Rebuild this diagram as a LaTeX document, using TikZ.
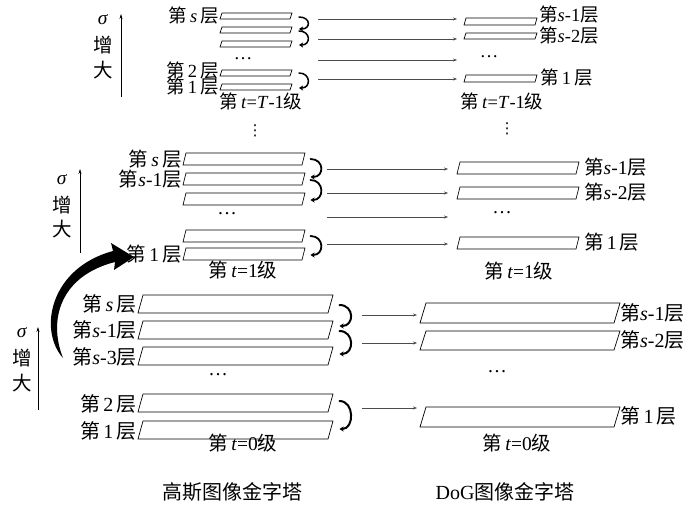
\documentclass[tikz,border=0pt]{standalone}
\usepackage{fontspec}
\setmainfont{Liberation Serif}
\newfontfamily\cjk{Noto Sans CJK SC}
\newfontfamily\dv{DejaVu Sans}
\usetikzlibrary{arrows.meta}
\newcommand\C[1]{{\cjk #1}}
\newcommand\para[6]{%
  \draw[pg] (#2+#6,#4) -- (#3,#4) -- (#3-#6,#5) -- (#2,#5) -- cycle;
  \coordinate (#1) at ({#3-#6/2},{(#4+#5)/2});}
\tikzset{
  pg/.style={draw=black,line width=0.7pt,line join=miter},
  lab/.style={inner sep=0pt,font=\fontsize{18.5}{18.5}\selectfont},
  labm/.style={inner sep=0pt,font=\fontsize{19.5}{19.5}\selectfont},
  labb/.style={inner sep=0pt,font=\fontsize{20}{20}\selectfont},
  harrow/.style={draw=black!70,line width=0.5pt,-{Stealth[length=4pt,width=3pt]}},
  curl/.style={draw=black,line width=1.8pt,-{Stealth[length=4pt,width=5pt,inset=1pt]},line cap=round},
  sarrow/.style={draw=black,line width=0.6pt,-{Stealth[length=5pt,width=3pt]}},
  vdot/.style={inner sep=0pt,font=\dv\fontsize{15}{15}\selectfont},
}
\begin{document}
\begin{tikzpicture}[x=1pt,y=-1pt]
\useasboundingbox (0,0) rectangle (700,508);
% ================= top level t=T-1 =================
\para{ga1}{220}{292}{13}{19}{2}
\para{ga2}{220}{292}{27}{33}{2}
\para{ga3}{220}{292}{41}{47}{2}
\para{ga4}{220}{292}{70}{76}{2}
\para{ga5}{220}{292}{84}{90}{2}
\para{da1}{464}{537}{18}{25}{2}
\para{da2}{464}{537}{33}{39}{2}
\para{da3}{464}{537}{75}{82}{2}
\node[lab,anchor=east] (la1) at (219,16) {\C{第}\,\textit{s}\,\C{层}};
\node[lab,anchor=east] (la2) at (219,71) {\C{第}\,2\,\C{层}};
\node[lab,anchor=east] (la3) at (219,87) {\C{第}\,1\,\C{层}};
\node[lab] (lva) at (261,101) {\C{第}\,\textit{t}=\textit{T}-1\C{级}};
\node[lab,anchor=west] (ra1) at (539,15) {\C{第}\textit{s}-1\C{层}};
\node[lab,anchor=west] (ra2) at (539,36) {\C{第}\textit{s}-2\C{层}};
\node[lab,anchor=west] (ra3) at (540,78) {\C{第}\,1\,\C{层}};
\node[lab] (rva) at (502,101) {\C{第}\,\textit{t}=\textit{T}-1\C{级}};
\node[lab] (dga) at (243,59) {…};
\node[lab] (dda) at (489,57) {…};
\draw[curl,line width=1.5pt] ([shift={(8,1)}]ga1) .. controls +(12,0) and +(12,0) .. ([shift={(8,-1)}]ga2);
\draw[curl,line width=1.5pt] ([shift={(8,1)}]ga2) .. controls +(12,0) and +(12,0) .. ([shift={(8,1)}]ga3);
\draw[curl,line width=1.5pt] ([shift={(8,0)}]ga4) .. controls +(12,0) and +(12,0) .. ([shift={(8,1)}]ga5);
\coordinate (ha1s) at (318,19); \coordinate (ha1e) at (457,19);
\coordinate (ha2s) at (318,39); \coordinate (ha2e) at (457,39);
\coordinate (ha3s) at (318,60); \coordinate (ha3e) at (457,60);
\coordinate (ha4s) at (318,79); \coordinate (ha4e) at (457,79);
\foreach \i in {1,...,4}{\draw[harrow] (ha\i s) -- (ha\i e);}
\coordinate (sa0) at (121,97); \coordinate (sa1) at (121,14);
\draw[sarrow] (sa0) -- (sa1);
\node[labm] (sga) at (103,20) {\textit{σ}};
\node[labm] (zga) at (103,45) {\C{增}};
\node[labm] (dxa) at (103,70) {\C{大}};
% vertical dots
\node[vdot] (vd1) at (255,131) {⋮};
\node[vdot] (vd2) at (507,129) {⋮};
% ================= middle level t=1 =================
\para{gb1}{183}{305}{153}{165}{3}
\para{gb2}{183}{305}{173}{185}{3}
\para{gb3}{183}{305}{193}{205}{3}
\para{gb4}{183}{305}{230}{242}{3}
\para{gb5}{183}{305}{248}{260}{3}
\para{db1}{457}{579}{162}{174}{3}
\para{db2}{457}{579}{187}{199}{3}
\para{db3}{457}{579}{237}{249}{3}
\node[labm,anchor=east] (lb1) at (182,159) {\C{第}\,\textit{s}\,\C{层}};
\node[labm,anchor=east] (lb2) at (182,179) {\C{第}\textit{s}-1\C{层}};
\node[labm,anchor=east] (lb3) at (182,254) {\C{第}\,1\,\C{层}};
\node[labm] (lvb) at (243,270) {\C{第}\,\textit{t}=1\C{级}};
\node[labm,anchor=west] (rb1) at (584,167) {\C{第}\textit{s}-1\C{层}};
\node[labm,anchor=west] (rb2) at (584,192) {\C{第}\textit{s}-2\C{层}};
\node[labm,anchor=west] (rb3) at (584,242) {\C{第}\,1\,\C{层}};
\node[labm] (rvb) at (519,271) {\C{第}\,\textit{t}=1\C{级}};
\node[labm] (dgb) at (227,214) {…};
\node[labm] (ddb) at (502,213) {…};
\draw[curl] ([shift={(7,0)}]gb1) .. controls +(14,0) and +(14,0) .. ([shift={(7,-2)}]gb2);
\draw[curl] ([shift={(7,1)}]gb2) .. controls +(14,0) and +(14,0) .. ([shift={(7,1)}]gb3);
\draw[curl] ([shift={(7,0)}]gb4) .. controls +(14,0) and +(14,0) .. ([shift={(7,1)}]gb5);
\coordinate (hb1s) at (327,169); \coordinate (hb1e) at (448,169);
\coordinate (hb2s) at (327,193); \coordinate (hb2e) at (448,193);
\coordinate (hb3s) at (327,217); \coordinate (hb3e) at (448,217);
\coordinate (hb4s) at (327,244); \coordinate (hb4e) at (448,244);
\foreach \i in {1,...,4}{\draw[harrow] (hb\i s) -- (hb\i e);}
\coordinate (sb0) at (80,253); \coordinate (sb1) at (80,169);
\draw[sarrow] (sb0) -- (sb1);
\node[labm] (sgb) at (62,180) {\textit{σ}};
\node[labm] (zgb) at (62,205) {\C{增}};
\node[labm] (dxb) at (62,229) {\C{大}};
% ================= bottom level t=0 =================
\para{gc1}{138}{333}{295}{313}{5}
\para{gc2}{138}{333}{321}{339}{5}
\para{gc3}{138}{333}{347}{365}{5}
\para{gc4}{138}{333}{394}{412}{5}
\para{gc5}{138}{333}{421}{439}{5}
\para{dc1}{420}{620}{303}{323}{6}
\para{dc2}{420}{620}{331}{350}{6}
\para{dc3}{420}{620}{407}{427}{6}
\node[labb,anchor=east] (lc1) at (137,304) {\C{第}\,\textit{s}\,\C{层}};
\node[labb,anchor=east] (lc2) at (137,330) {\C{第}\textit{s}-1\C{层}};
\node[labb,anchor=east] (lc3) at (137,357) {\C{第}\textit{s}-3\C{层}};
\node[labb,anchor=east] (lc4) at (137,404) {\C{第}\,2\,\C{层}};
\node[labb,anchor=east] (lc5) at (137,431) {\C{第}\,1\,\C{层}};
\node[labm] (lvc) at (243,443) {\C{第}\,\textit{t}=0\C{级}};
\node[labb,anchor=west] (rc1) at (620,313) {\C{第}\textit{s}-1\C{层}};
\node[labb,anchor=west] (rc2) at (620,340) {\C{第}\textit{s}-2\C{层}};
\node[labb,anchor=west] (rc3) at (620,416) {\C{第}\,1\,\C{层}};
\node[labm] (rvc) at (517,443) {\C{第}\,\textit{t}=0\C{级}};
\node[labm] (dgc) at (218,375) {…};
\node[labm] (ddc) at (497,372) {…};
\draw[curl,line width=2pt] ([shift={(9,1)}]gc1) .. controls +(15,0) and +(15,0) .. ([shift={(9,-4)}]gc2);
\draw[curl,line width=2pt] ([shift={(9,1)}]gc2) .. controls +(15,0) and +(15,0) .. ([shift={(9,-2)}]gc3);
\draw[curl,line width=2pt] ([shift={(9,-2)}]gc4) .. controls +(15,0) and +(15,0) .. ([shift={(9,-1)}]gc5);
\coordinate (hc1s) at (362,315); \coordinate (hc1e) at (417,315);
\coordinate (hc2s) at (362,343); \coordinate (hc2e) at (417,343);
\coordinate (hc3s) at (362,408); \coordinate (hc3e) at (417,408);
\foreach \i in {1,...,3}{\draw[harrow] (hc\i s) -- (hc\i e);}
\coordinate (sc0) at (38,410); \coordinate (sc1) at (38,327);
\draw[sarrow] (sc0) -- (sc1);
\node[labm] (sgc) at (22,333) {\textit{σ}};
\node[labm] (zgc) at (22,358) {\C{增}};
\node[labm] (dxc) at (22,383) {\C{大}};
% big arrow from level 0 to level 1
\coordinate (bigtail) at (63,358);
\coordinate (bighead) at (134,257);
\fill[black] (bigtail) .. controls (38,330) and (50,268) .. (113,251) -- (111,243) -- (bighead) -- (114,270) -- (115,262) .. controls (60,276) and (48,320) .. (bigtail) -- cycle;
% titles
\node[inner sep=0pt,font=\fontsize{20}{20}\selectfont] (t1) at (232,492) {\C{高斯图像金字塔}};
\node[inner sep=0pt,font=\fontsize{20}{20}\selectfont] (t2) at (505,492) {DoG\C{图像金字塔}};
\end{tikzpicture}
\end{document}
